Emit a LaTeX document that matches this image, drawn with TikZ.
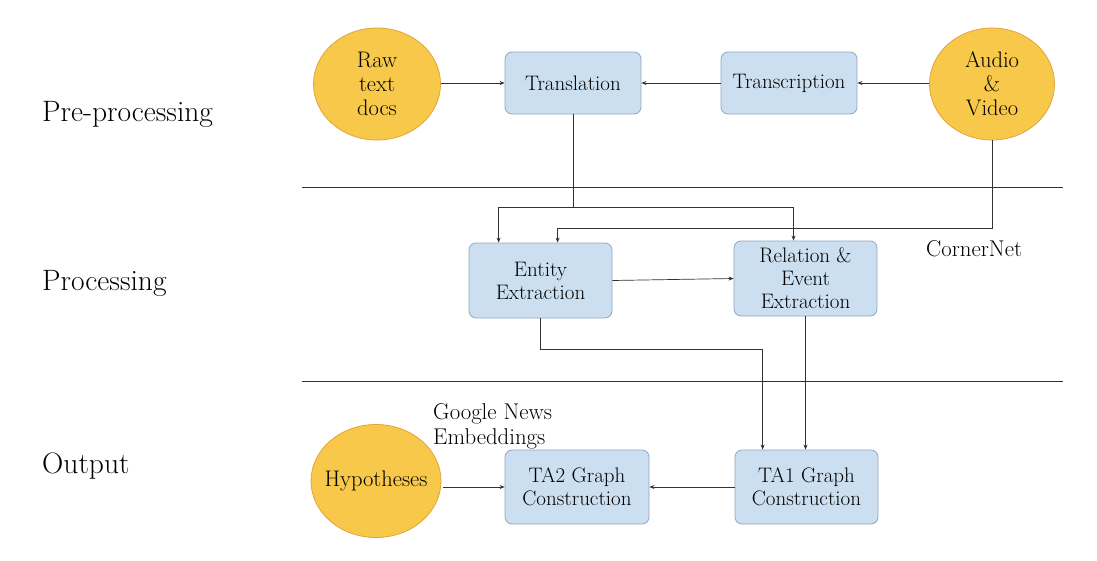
\documentclass[tikz,border=0pt]{standalone}
\usetikzlibrary{arrows.meta,calc,shapes.geometric}
\definecolor{gold}{HTML}{F7C84A}
\definecolor{goldline}{HTML}{E3A43A}
\definecolor{boxfill}{HTML}{CCDFF1}
\definecolor{boxline}{HTML}{8FA8C2}
\definecolor{ink}{HTML}{333333}
\begin{document}
\begin{tikzpicture}[x=1pt,y=-1pt,
  blob/.style={ellipse,draw=goldline,fill=gold,line width=0.8pt,inner sep=0pt,align=center,font=\fontsize{22.5}{24}\selectfont},
  procbox/.style={rectangle,rounded corners=7pt,draw=boxline,fill=boxfill,line width=0.8pt,inner sep=0pt,align=center,font=\fontsize{21}{23}\selectfont},
  sidelabel/.style={anchor=west,inner sep=0pt,font=\fontsize{29.5}{32}\selectfont},
  note/.style={anchor=west,inner sep=0pt,align=left,font=\fontsize{22.8}{25}\selectfont},
  arr/.style={draw=ink,line width=0.7pt,-{Stealth[length=5pt,width=4pt]}},
  sep/.style={draw=ink,line width=0.8pt}]
\useasboundingbox (0,0) rectangle (1097,560);
\fill[white] (0,0) rectangle (1097,560);
\node[sidelabel] (lpre) at (42,114) {Pre-processing};
\node[sidelabel] (lproc) at (42,283) {Processing};
\node[sidelabel] (lout) at (42,466) {Output};
\coordinate (s1a) at (302,187); \coordinate (s1b) at (1063,187);
\coordinate (s2a) at (302,381); \coordinate (s2b) at (1063,381);
\draw[sep] (s1a) -- (s1b);
\draw[sep] (s2a) -- (s2b);
\node[blob,minimum width=127pt,minimum height=112pt] (raw) at (377,84) {Raw\\text\\docs};
\node[procbox,minimum width=136pt,minimum height=62pt] (trans) at (573,83) {Translation};
\node[procbox,minimum width=136pt,minimum height=62pt] (transc) at (789,83) {Transcription};
\node[blob,minimum width=125pt,minimum height=112pt] (av) at (992,84) {Audio\\\&\\Video};
\node[procbox,minimum width=143pt,minimum height=75pt] (ent) at (540.5,280.5) {Entity\\Extraction};
\node[procbox,minimum width=143pt,minimum height=75pt] (rel) at (805.5,278.5) {Relation \&\\Event\\Extraction};
\node[note] (cn) at (926,249) {CornerNet};
\node[note] (gn) at (433,426) {Google News\\Embeddings};
\node[blob,minimum width=130pt,minimum height=113pt] (hyp) at (376,481) {\makebox[0pt]{Hypotheses}};
\node[procbox,minimum width=144pt,minimum height=74pt] (ta2) at (577,487) {TA2 Graph\\Construction};
\node[procbox,minimum width=143pt,minimum height=74pt] (ta1) at (806.5,487) {TA1 Graph\\Construction};
\coordinate (y1) at (0,207);
\coordinate (y2) at (0,228);
\coordinate (y3) at (0,349);
\draw[arr] (raw.east |- trans.west) -- (trans.west);
\draw[arr] (transc.west) -- (trans.east);
\draw[arr] (av.west |- transc.east) -- (transc.east);
\draw[arr] (trans.south) -- (trans.south |- y1) -| ([xshift=30pt]ent.north west);
\draw[arr] (trans.south |- y1) -| ([xshift=-12pt]rel.north);
\draw[arr] (av.south) -- (av.south |- y2) -| ([xshift=89pt]ent.north west);
\draw[arr] (ent.east) -- (rel.west);
\draw[arr] (ent.south) -- (ent.south |- y3) -| ([xshift=28pt]ta1.north west);
\draw[arr] (rel.south) -- (rel.south |- ta1.north);
\draw[arr] ([xshift=2pt]hyp.east |- ta2.west) -- (ta2.west);
\draw[arr] (ta1.west) -- (ta2.east);
\end{tikzpicture}
\end{document}
